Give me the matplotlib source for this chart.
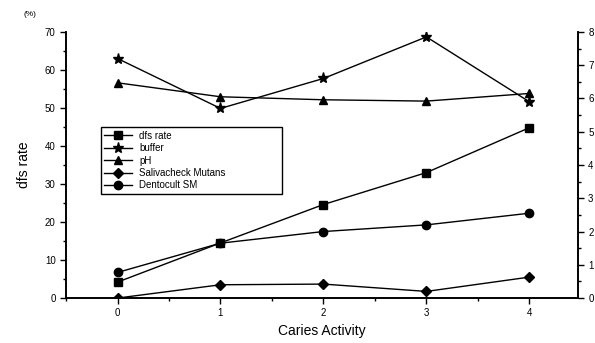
import matplotlib
matplotlib.use("Agg")
import matplotlib.pyplot as plt
from matplotlib.ticker import MultipleLocator

plt.rcParams['font.family'] = ['Liberation Sans', 'DejaVu Sans']

# caries activity levels
activity = [0, 1, 2, 3, 4]

# left axis (%)
dfs_rate = [4.2, 14.5, 24.6, 33.0, 44.8]

# right axis
buffer_ = [7.2, 5.7, 6.6, 7.85, 5.9]
ph = [6.47, 6.05, 5.96, 5.92, 6.15]
salivacheck = [0.0, 0.4, 0.42, 0.2, 0.63]
dentocult = [0.77, 1.65, 2.0, 2.2, 2.55]

fig = plt.figure(figsize=(5.95, 3.43), dpi=100)
ax = fig.add_axes([0.111, 0.131, 0.86, 0.776])
ax2 = ax.twinx()

lw = 1.0
ms = 6
h1, = ax.plot(activity, dfs_rate, 'k-', marker='s', ms=ms, lw=lw, label='dfs rate')
h2, = ax2.plot(activity, buffer_, 'k-', marker='*', ms=ms + 2, lw=lw, label='buffer')
h3, = ax2.plot(activity, ph, 'k-', marker='^', ms=ms, lw=lw, label='pH')
h4, = ax2.plot(activity, salivacheck, 'k-', marker='D', ms=ms - 1, lw=lw, label='Salivacheck Mutans')
h5, = ax2.plot(activity, dentocult, 'k-', marker='o', ms=ms, lw=lw, label='Dentocult SM')

ax.set_xlim(-0.5, 4.47)
ax.set_ylim(0, 70)
ax2.set_ylim(0, 8)

ax.xaxis.set_major_locator(MultipleLocator(1))
ax.xaxis.set_minor_locator(MultipleLocator(0.5))
ax.yaxis.set_major_locator(MultipleLocator(10))
ax.yaxis.set_minor_locator(MultipleLocator(5))
ax2.yaxis.set_major_locator(MultipleLocator(1))
ax2.yaxis.set_minor_locator(MultipleLocator(0.5))

for a in (ax, ax2):
    a.spines['top'].set_visible(False)
    for s in a.spines.values():
        s.set_linewidth(1.2)
    a.tick_params(labelsize=7, width=1, length=4, direction='out')
    a.tick_params(which='minor', length=2.5, width=1, direction='out')

ax.set_xlabel('Caries Activity', fontsize=10)
ax.set_ylabel('dfs rate', fontsize=10, labelpad=10)
ax.text(-0.07, 1.06, '(%)', transform=ax.transAxes, fontsize=6, ha='center')

leg = ax.legend(handles=[h1, h2, h3, h4, h5], loc='upper left',
                bbox_to_anchor=(0.059, 0.66, 0.373, 0.0), mode='expand',
                fontsize=7, fancybox=False,
                framealpha=1, edgecolor='black', handlelength=2.8,
                labelspacing=0.25, borderpad=0.35)
leg.get_frame().set_linewidth(1.0)

fig.savefig('out.png', dpi=100)
